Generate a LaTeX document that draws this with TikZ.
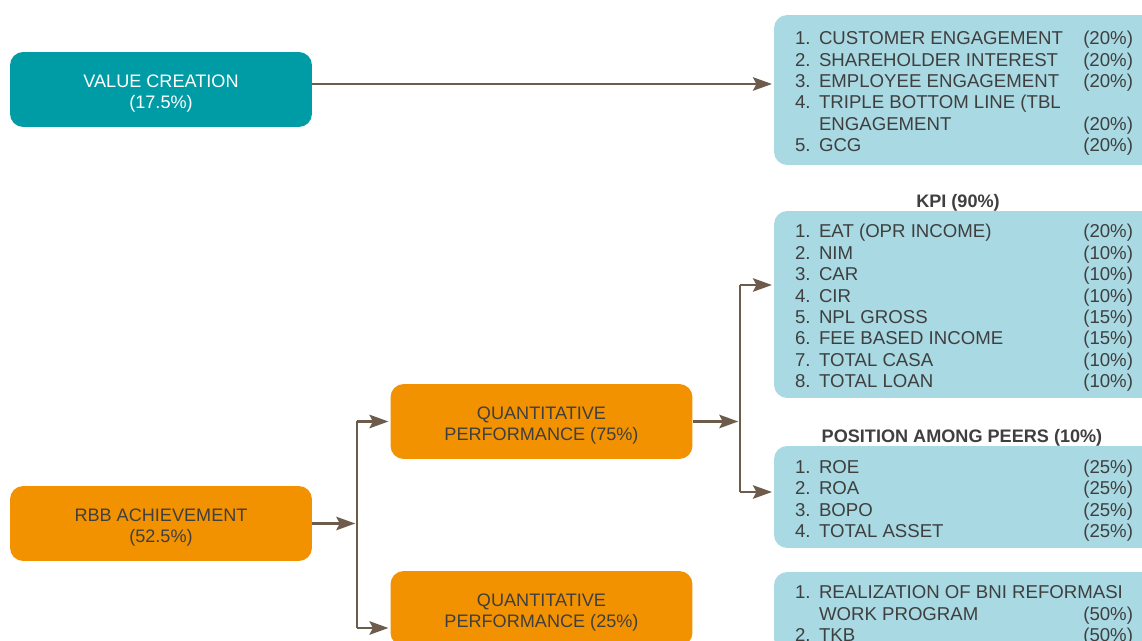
\documentclass[tikz,border=0pt]{standalone}
\usepackage{fontspec}
\setmainfont{Liberation Sans}
\usepackage{array}
\usetikzlibrary{arrows.meta,positioning}
\definecolor{tealbox}{HTML}{009CA6}
\definecolor{orangebox}{HTML}{F39200}
\definecolor{listbox}{HTML}{A9D9E3}
\definecolor{ink}{HTML}{3F3F3F}
\definecolor{wire}{HTML}{6D5C4C}
\newcolumntype{Q}{>{\raggedleft\arraybackslash}p{1.38cm}}
\newcommand{\listfont}{\fontsize{10.6}{12.2}\selectfont}
\newcommand{\sinktext}[1]{\raisebox{-0.08cm}[\height][\depth]{#1}}

\begin{document}
\begin{tikzpicture}[x=0.02cm,y=-0.02cm,>={Stealth[length=3.8mm,width=2.7mm,inset=0.7mm]},
  goal/.style={rounded corners=7.5pt,minimum width=6.04cm,minimum height=1.5cm,inner sep=0pt,font=\fontsize{10.3}{12}\selectfont},
  itembox/.style={fill=listbox,rounded corners=7.5pt,minimum width=7.6cm,inner sep=0pt,text=ink,font=\listfont},
  title/.style={inner sep=0.5pt,text=ink,font=\fontsize{10.3}{12}\selectfont\bfseries},
  wire/.style={draw=wire,line width=1.3pt,shorten >=1pt}]
\useasboundingbox (0,0) rectangle (1142,641);
\clip (0,0) rectangle (1142,641);

% left column
\node[goal,fill=tealbox,text=white] (vc) at (161,89.5) {\sinktext{\begin{tabular}{@{}c@{}}VALUE CREATION\\(17.5\%)\end{tabular}}};
\node[goal,fill=orangebox,text=ink] (rbb) at (161,523.5) {\sinktext{\begin{tabular}{@{}c@{}}RBB ACHIEVEMENT\\(52.5\%)\end{tabular}}};

% middle column
\node[goal,fill=orangebox,text=ink] (qp75) at (541.5,421.5) {\sinktext{\begin{tabular}{@{}c@{}}QUANTITATIVE\\PERFORMANCE (75\%)\end{tabular}}};
\node[goal,fill=orangebox,text=ink] (qp25) at (541.5,608.5) {\sinktext{\begin{tabular}{@{}c@{}}QUANTITATIVE\\PERFORMANCE (25\%)\end{tabular}}};

% right column
\node[itembox,minimum height=3.0cm] (engage) at (964,90) {\sinktext{\begin{tabular}{@{}p{0.48cm}@{}p{4.9cm}@{}Q@{}}
1. & CUSTOMER ENGAGEMENT & (20\%)\\
2. & SHAREHOLDER INTEREST & (20\%)\\
3. & EMPLOYEE ENGAGEMENT & (20\%)\\
4. & TRIPLE BOTTOM LINE (TBL & \\
 & ENGAGEMENT & (20\%)\\
5. & GCG & (20\%)
\end{tabular}}};

\node[itembox,minimum height=3.74cm] (kpi) at (964,304.5) {\sinktext{\begin{tabular}{@{}p{0.48cm}@{}p{4.9cm}@{}Q@{}}
1. & EAT (OPR INCOME) & (20\%)\\
2. & NIM & (10\%)\\
3. & CAR & (10\%)\\
4. & CIR & (10\%)\\
5. & NPL GROSS & (15\%)\\
6. & FEE BASED INCOME & (15\%)\\
7. & TOTAL CASA & (10\%)\\
8. & TOTAL LOAN & (10\%)
\end{tabular}}};
\node[title,above=-0.04cm of kpi.north,xshift=-0.12cm] (kpititle) {KPI (90\%)};

\node[itembox,minimum height=2.04cm] (peers) at (964,497) {\sinktext{\begin{tabular}{@{}p{0.48cm}@{}p{4.9cm}@{}Q@{}}
1. & ROE & (25\%)\\
2. & ROA & (25\%)\\
3. & BOPO & (25\%)\\
4. & TOTAL ASSET & (25\%)
\end{tabular}}};
\node[title,above=-0.04cm of peers.north,xshift=-0.04cm] (peerstitle) {POSITION AMONG PEERS (10\%)};

\node[itembox,minimum height=1.6cm] (reform) at (964,612) {\sinktext{\begin{tabular}{@{}p{0.48cm}@{}p{4.9cm}@{}Q@{}}
1. & \multicolumn{2}{@{}l@{}}{REALIZATION OF BNI REFORMASI}\\
 & WORK PROGRAM & (50\%)\\
2. & TKB & (50\%)
\end{tabular}}};

% connectors
\coordinate (vcout) at (312,84);
\coordinate (fork1) at (357,523.5);
\coordinate (low1) at (357,628);
\coordinate (fork2) at (740,421.5);
\coordinate (kpiin) at (740,285);
\coordinate (peerin) at (740,492);

\draw[wire,->] (vcout -| vc.east) -- (vcout -| engage.west);

\draw[wire,->] (rbb.east) -- (fork1);
\draw[wire,shorten >=0pt] (fork1 |- qp75.west) -- (low1);
\draw[wire,->] (fork1 |- qp75.west) -- (qp75.west);
\draw[wire,->] (low1) -- (low1 -| qp25.west);

\draw[wire,->] (qp75.east) -- (fork2);
\draw[wire,shorten >=0pt] (kpiin) -- (peerin);
\draw[wire,->] (kpiin) -- (kpiin -| kpi.west);
\draw[wire,->] (peerin) -- (peerin -| peers.west);
\end{tikzpicture}
\end{document}
